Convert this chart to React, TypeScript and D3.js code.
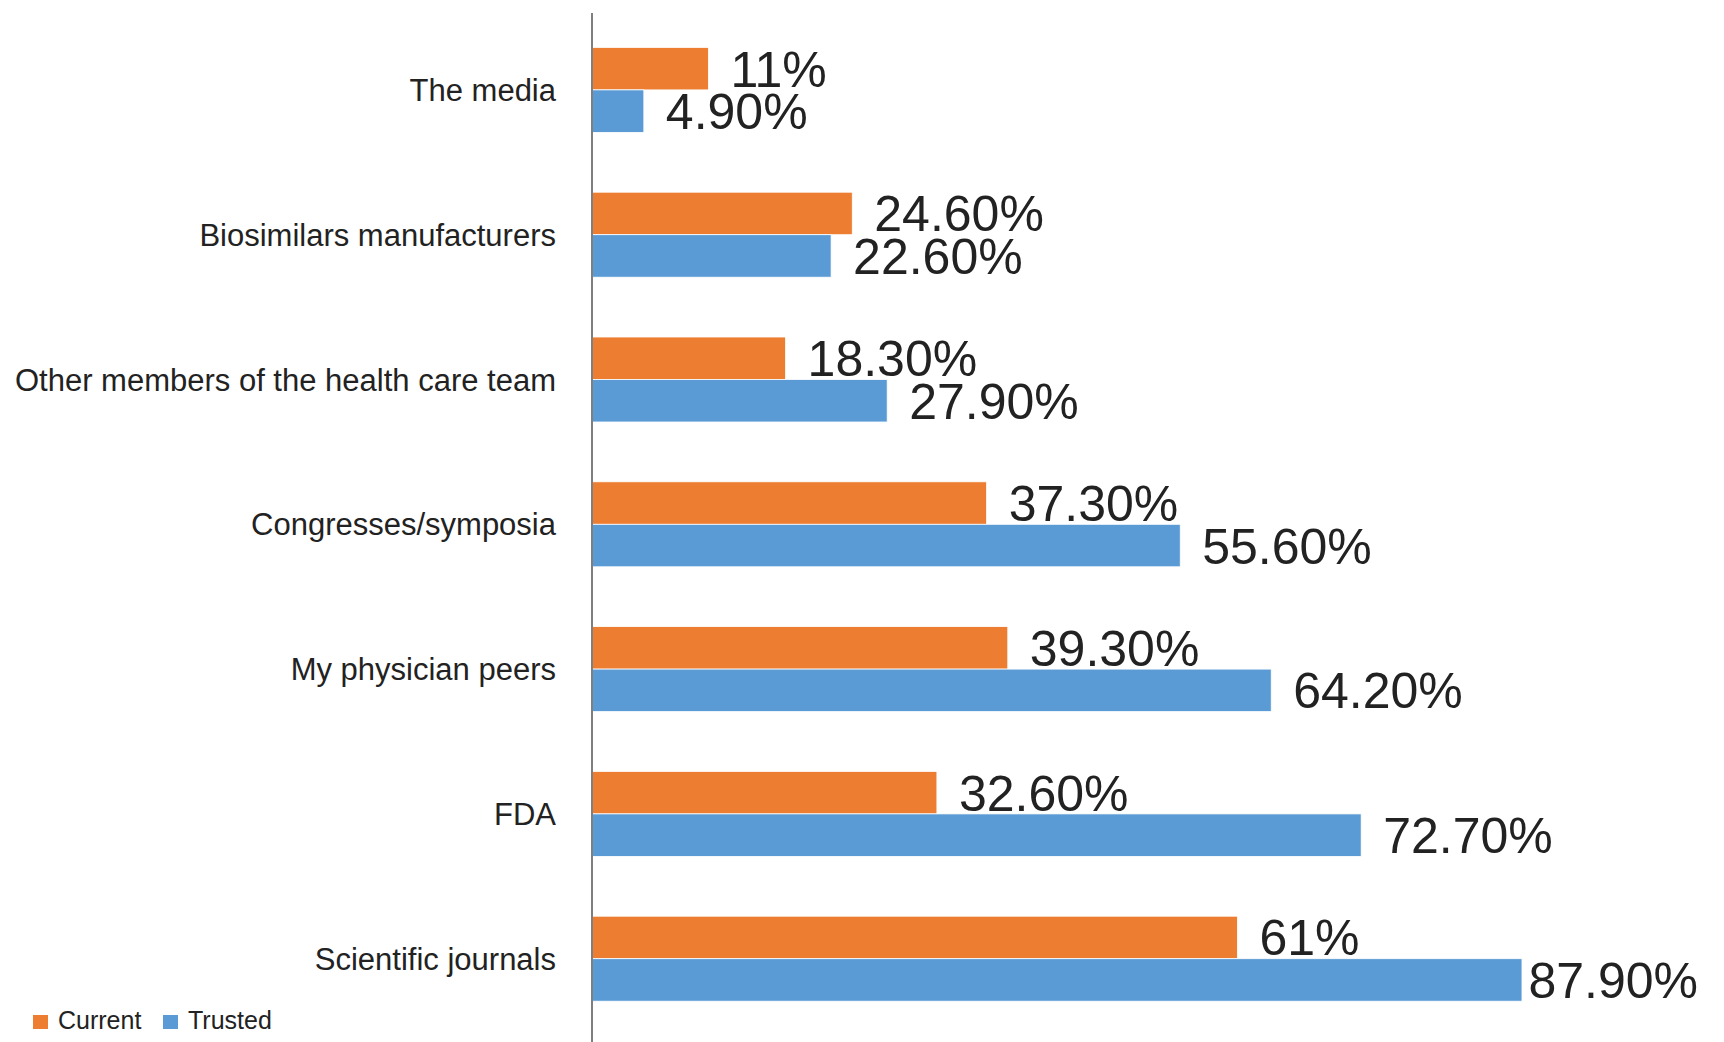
import { useRef, useEffect } from 'react';
import * as d3 from 'd3';

/* ── Data ─────────────────────────────────────────────── */
const CATEGORIES = [
  "The media",
  "Biosimilars manufacturers",
  "Other members of the health care team",
  "Congresses/symposia",
  "My physician peers",
  "FDA",
  "Scientific journals",
];
const SERIES = ["Current", "Trusted"];
const CURRENT = [11, 24.6, 18.3, 37.3, 39.3, 32.6, 61];
const TRUSTED = [4.9, 22.6, 27.9, 55.6, 64.2, 72.7, 87.9];
const CURRENT_LABELS = ["11%", "24.60%", "18.30%", "37.30%", "39.30%", "32.60%", "61%"];
const TRUSTED_LABELS = ["4.90%", "22.60%", "27.90%", "55.60%", "64.20%", "72.70%", "87.90%"];

const COLORS: Record<string, string> = { Current: "#ED7D31", Trusted: "#5B9BD5" };
const FONT = "'Liberation Sans', Arial, sans-serif";

function App() {
  const svgRef = useRef<SVGSVGElement>(null);

  useEffect(() => {
    const totalW = 1724, totalH = 1042;
    const svg = d3.select(svgRef.current);
    svg.selectAll("*").remove();
    svg.attr("width", totalW).attr("height", totalH);

    const axisX = 592;
    const maxRight = 1698;

    const y0 = d3.scaleBand<string>()
      .domain(CATEGORIES)
      .range([17.5, 1031.1])
      .padding(0);

    const y1 = d3.scaleBand<string>()
      .domain(SERIES)
      .range([0, y0.bandwidth()])
      .paddingInner(0)
      .paddingOuter(0.7035);

    const x = d3.scaleLinear().domain([0, 100]).range([axisX, axisX + 1058]);

    const rows = CATEGORIES.flatMap((c, i) => [
      { cat: c, series: "Current", value: CURRENT[i], label: CURRENT_LABELS[i] },
      { cat: c, series: "Trusted", value: TRUSTED[i], label: TRUSTED_LABELS[i] },
    ]);

    // Bars
    svg.append("g").selectAll("rect")
      .data(rows)
      .enter()
      .append("rect")
      .attr("x", x(0))
      .attr("y", d => (y0(d.cat) as number) + (y1(d.series) as number))
      .attr("width", d => x(d.value) - x(0))
      .attr("height", y1.bandwidth())
      .attr("fill", d => COLORS[d.series])
      .attr("stroke", "#fff")
      .attr("stroke-width", 0.8);

    // Value labels
    const labels = svg.append("g").selectAll("text")
      .data(rows)
      .enter()
      .append("text")
      .attr("x", d => x(d.value) + 22)
      .attr("y", d => (y0(d.cat) as number) + (y1(d.series) as number) + y1.bandwidth() / 2)
      .attr("dy", "0.36em")
      .style("font-family", FONT)
      .style("font-size", "50px")
      .style("fill", "#222")
      .text(d => d.label);

    // keep labels inside the right edge
    labels.each(function () {
      const t = this as SVGTextElement;
      const w = t.getComputedTextLength();
      const xx = +t.getAttribute("x")!;
      if (xx + w > maxRight) t.setAttribute("x", String(maxRight - w));
    });

    // Category labels
    svg.append("g").selectAll("text")
      .data(CATEGORIES)
      .enter()
      .append("text")
      .attr("x", 556)
      .attr("y", d => (y0(d) as number) + y0.bandwidth() / 2)
      .attr("dy", "0.36em")
      .attr("text-anchor", "end")
      .style("font-family", FONT)
      .style("font-size", "31px")
      .style("fill", "#222")
      .text(d => d);

    // Vertical axis line
    svg.append("line")
      .attr("x1", axisX).attr("x2", axisX)
      .attr("y1", 13).attr("y2", totalH)
      .attr("stroke", "#7f7f7f")
      .attr("stroke-width", 2);

    // Legend
    const legend = svg.append("g").attr("transform", "translate(33, 1015)");
    const legendX = [0, 130];
    SERIES.forEach((s, i) => {
      const lg = legend.append("g").attr("transform", `translate(${legendX[i]}, 0)`);
      lg.append("rect")
        .attr("width", 15).attr("height", 14)
        .attr("fill", COLORS[s]);
      lg.append("text")
        .attr("x", 25).attr("y", 14)
        .style("font-family", FONT)
        .style("font-size", "25px")
        .style("fill", "#222")
        .text(s);
    });
  }, []);

  return <svg ref={svgRef} style={{ position: "absolute", left: 0, top: 0, background: "#fff" }}></svg>;
}

export default App;
